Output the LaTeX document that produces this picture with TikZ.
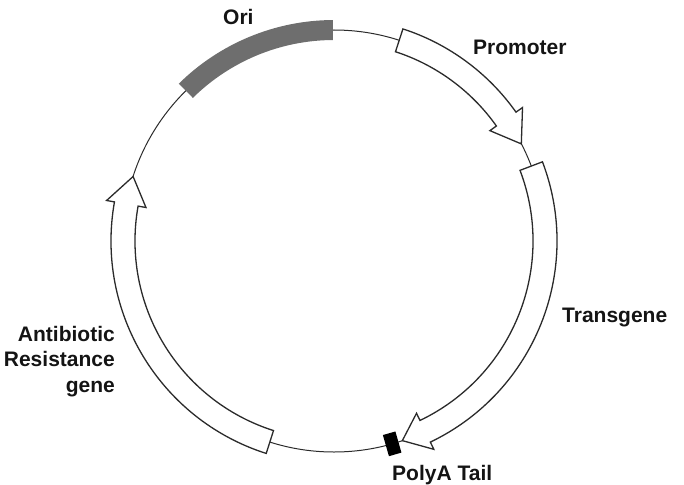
\documentclass[tikz,border=0pt]{standalone}
\usepackage{fontspec}
\setmainfont{Liberation Sans}
\usetikzlibrary{positioning}
\definecolor{PlasInk}{HTML}{2B2B2B}
\definecolor{PlasOri}{HTML}{6E6E6E}
\definecolor{PlasText}{HTML}{141414}
\tikzset{
  plas/backbone/.style={draw=PlasInk, line width=1pt},
  plas/gene/.style={draw=PlasInk, line width=1.3pt, fill=white, line join=miter},
  plas/ori/.style={fill=PlasOri},
  plas/tail/.style={fill=black, minimum width=13pt, minimum height=22pt, inner sep=0pt},
  plas/label/.style={font=\fontsize{21}{25.5}\selectfont\bfseries, text=PlasText, inner sep=0pt}
}
% gene drawn as a bent arrow: #1 tail angle, #2 head base angle, #3 tip angle
\newcommand{\genearrow}[3]{%
  \draw[plas/gene] (#1:223) arc[start angle=#1, end angle=#2, radius=223]
    -- (#2:231) -- (#3:211) -- (#2:191) -- (#2:199)
    arc[start angle=#2, end angle=#1, radius=199] -- cycle;}

\begin{document}
\begin{tikzpicture}[x=1pt,y=1pt]
  \useasboundingbox (0,0) rectangle (684,-484);
  \begin{scope}[shift={(334,-241)}]
    \draw[plas/backbone] (0,0) circle[radius=211];
    % origin of replication
    \fill[plas/ori] (134.6:221) arc[start angle=134.6, end angle=90.3, radius=221]
      -- (90.3:201) arc[start angle=90.3, end angle=134.6, radius=201] -- cycle;
    \genearrow{72}{35.3}{27.4}     % promoter
    \genearrow{20.8}{-64.4}{-71.1} % transgene
    \genearrow{252.3}{169.9}{162.2} % resistance
    \node[plas/tail, rotate=16] (tail) at (-74:211) {};
  \end{scope}
  \node[plas/label, anchor=base west] (ori) at (223,-25) {Ori};
  \node[plas/label, anchor=base west] (prom) at (473,-55) {Promoter};
  \node[plas/label, anchor=base west] (trans) at (562,-322) {Transgene};
  \node[plas/label, anchor=north east, align=right] (abr) at (115,-326)
    {Antibiotic\\Resistance\\gene};
  \node[plas/label, anchor=base west] (polya) at (392,-480) {PolyA Tail};
\end{tikzpicture}
\end{document}
